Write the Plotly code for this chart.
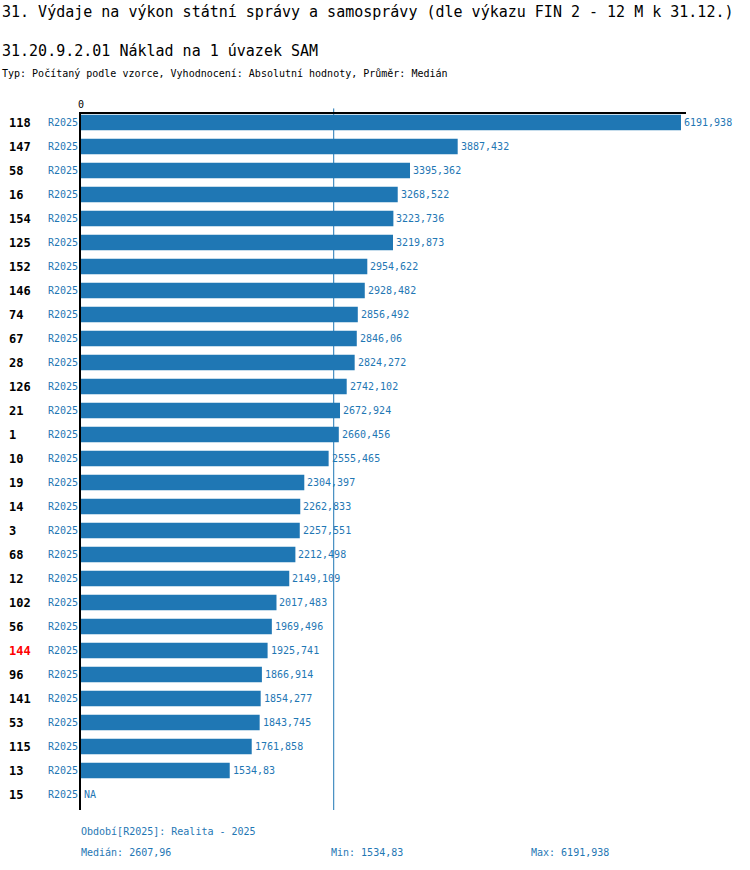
import numpy as np
import plotly.graph_objects as go

ids = [118, 147, 58, 16, 154, 125, 152, 146, 74, 67, 28, 126, 21, 1, 10, 19, 14, 3, 68, 12,
       102, 56, 144, 96, 141, 53, 115, 13, 15]
values = [6191.938, 3887.432, 3395.362, 3268.522, 3223.736, 3219.873, 2954.622, 2928.482,
          2856.492, 2846.06, 2824.272, 2742.102, 2672.924, 2660.456, 2555.465, 2304.397,
          2262.833, 2257.551, 2212.498, 2149.109, 2017.483, 1969.496, 1925.741, 1866.914,
          1854.277, 1843.745, 1761.858, 1534.83, None]
period = "R2025"
highlight_id = 144

title = "31. Výdaje na výkon státní správy a samosprávy (dle výkazu FIN 2 - 12 M k 31.12.)"
subtitle = "31.20.9.2.01 Náklad na 1 úvazek SAM"
info = "Typ: Počítaný podle vzorce, Vyhodnocení: Absolutní hodnoty, Průměr: Medián"
period_note = "Období[R2025]: Realita - 2025"

FONT = "DejaVu Sans Mono"
BLUE = "#1f77b4"

W, H = 750, 870
L, R, T, B = 81, 64, 114, 60
PW, PH = W - L - R, H - T - B


def fmt(v):
    s = f"{v:.3f}".rstrip("0").rstrip(".")
    return s.replace(".", ",")


valid = [v for v in values if v is not None]
vmax, vmin = max(valid), min(valid)
med = float(np.median(valid))

n = len(ids)
ypos = list(range(n))

fig = go.Figure()
fig.add_trace(go.Bar(
    x=[v if v is not None else 0 for v in values], y=ypos, orientation="h",
    marker=dict(color=BLUE, line=dict(width=0)), width=0.65, hoverinfo="skip",
))

for i, v in enumerate(values):
    fig.add_annotation(x=v if v is not None else 0, y=i, xref="x", yref="y",
                       text=fmt(v) if v is not None else "NA", showarrow=False,
                       xanchor="left", yanchor="middle", xshift=1,
                       font=dict(family=FONT, size=10, color=BLUE))
    fig.add_annotation(x=0, y=i, xref="x", yref="y", text=period, showarrow=False,
                       xanchor="right", yanchor="middle", xshift=-1,
                       font=dict(family=FONT, size=10, color=BLUE))
    fig.add_annotation(x=0, y=i, xref="x", yref="y", text=f"<b>{ids[i]}</b>", showarrow=False,
                       xanchor="left", yanchor="middle", xshift=-74,
                       font=dict(family=FONT, size=12,
                                 color="red" if ids[i] == highlight_id else "black"))

fig.add_shape(type="line", xref="x", yref="paper", x0=med, x1=med, y0=0, y1=1.008,
              line=dict(color=BLUE, width=1), layer="below")


def px(xp):
    return (xp - L) / PW


def py(yp):
    return (H - B - yp) / PH


texts = [
    (title, 0, 12, 15, "black"),
    (subtitle, 0, 51, 15, "black"),
    (info, 0, 73, 10, "black"),
    (period_note, 79, 831, 10, BLUE),
    (f"Medián: {fmt(round(med, 2))}", 79, 852, 10, BLUE),
    (f"Min: {fmt(vmin)}", 329, 852, 10, BLUE),
    (f"Max: {fmt(vmax)}", 529, 852, 10, BLUE),
]
for t, x, y, s, c in texts:
    fig.add_annotation(x=px(x), y=py(y), xref="paper", yref="paper", text=t, showarrow=False,
                       xanchor="left", yanchor="middle",
                       font=dict(family=FONT, size=s, color=c))

fig.update_layout(
    width=W, height=H, margin=dict(l=L, r=R, t=T, b=B, autoexpand=False),
    plot_bgcolor="white", paper_bgcolor="white", showlegend=False,
    font=dict(family=FONT, size=10, color="black"),
    xaxis=dict(range=[0, vmax * 605 / 600], side="top", showline=True, linecolor="black",
               linewidth=2, showgrid=False, zeroline=False, tickvals=[0], ticktext=["0"],
               ticks="", tickfont=dict(family=FONT, size=10, color="black"), fixedrange=True),
    yaxis=dict(range=[n - 1 + 15.5 / 24, -8.5 / 24], showline=True, linecolor="black",
               linewidth=2, showgrid=False, zeroline=False, showticklabels=False, ticks="",
               fixedrange=True),
)

fig.write_html("out.html", config={"displayModeBar": False, "staticPlot": True},
               post_script="document.body.style.margin='0';document.body.style.overflow='hidden';")
